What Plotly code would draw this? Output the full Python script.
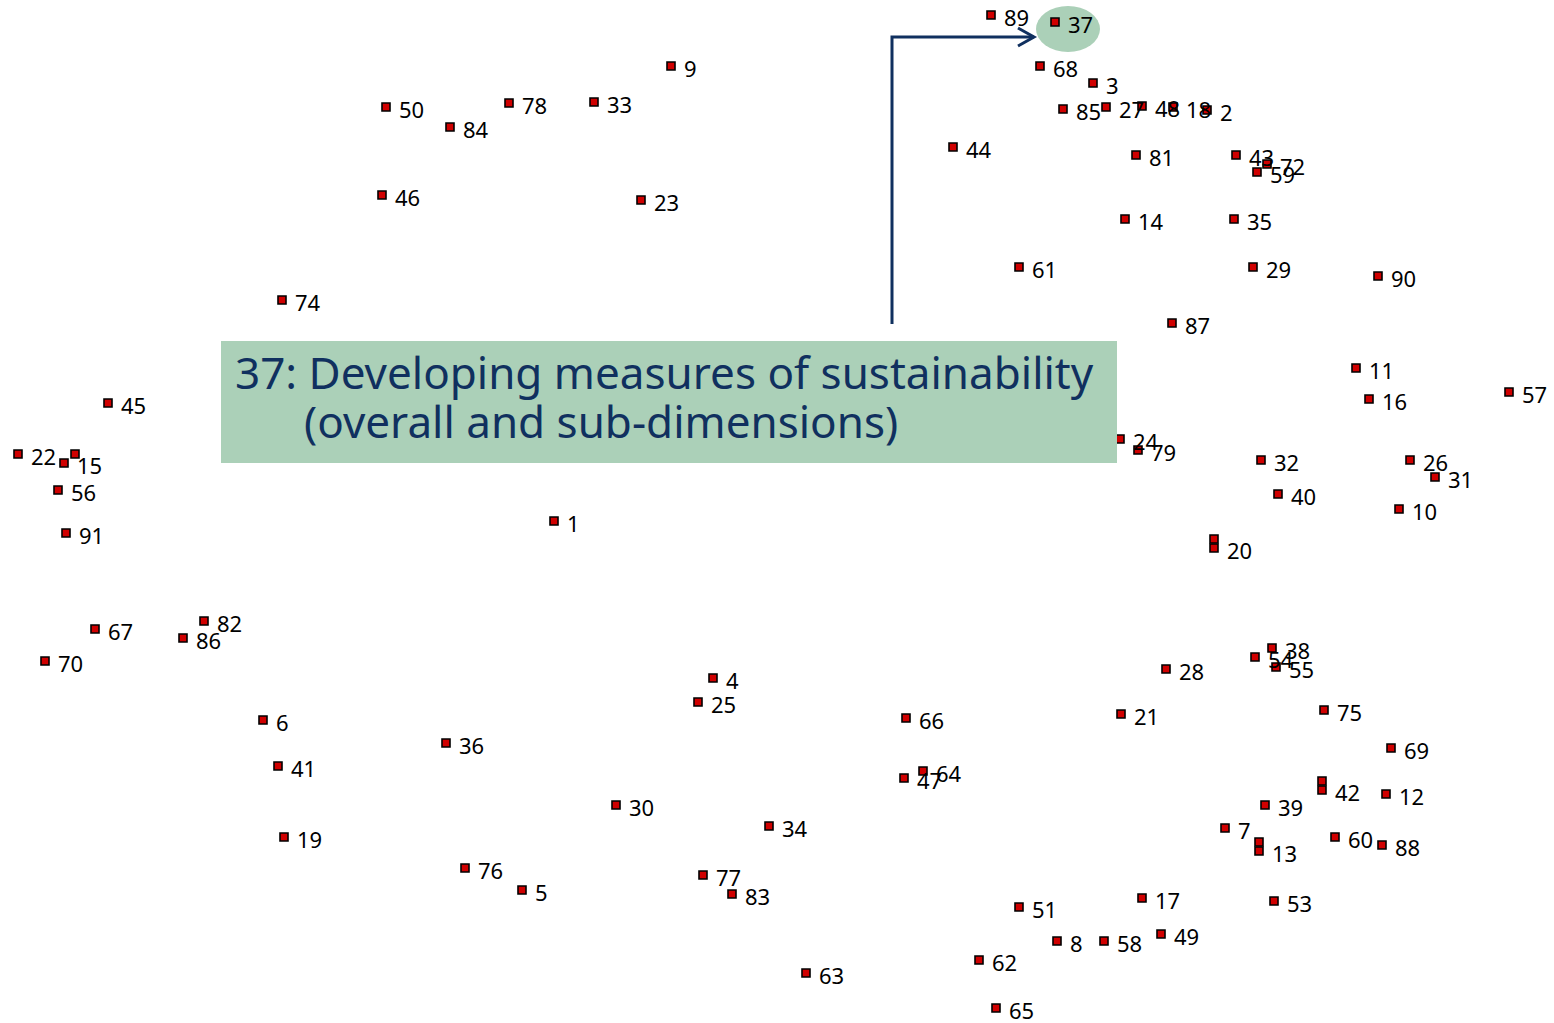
import plotly.graph_objects as go

# concept-map point positions (pixel units)
labels = [
    "89", "37", "68", "3", "85", "27", "48", "18", "2", "44",
    "81", "43", "72", "59", "14", "35", "61", "29", "90", "87",
    "11", "16", "57", "24", "79", "32", "26", "31", "40", "10",
    "20", "", "1", "45", "22", "15", "", "56", "91", "74",
    "46", "50", "84", "78", "33", "9", "23", "67", "70", "82",
    "86", "6", "41", "19", "36", "4", "25", "30", "76", "5",
    "34", "77", "83", "63", "66", "47", "64", "51", "62", "65",
    "8", "58", "49", "17", "53", "21", "28", "54", "38", "55",
    "75", "69", "42", "", "12", "39", "7", "13", "", "60",
    "88", "52",
]
xs = [
    991, 1055, 1040, 1093, 1063, 1106, 1142, 1173, 1207, 953,
    1136, 1236, 1267, 1257, 1125, 1234, 1019, 1253, 1378, 1172,
    1356, 1369, 1509, 1120, 1138, 1261, 1410, 1435, 1278, 1399,
    1214, 1214, 554, 108, 18, 64, 75, 58, 66, 282,
    382, 386, 450, 509, 594, 671, 641, 95, 45, 204,
    183, 263, 278, 284, 446, 713, 698, 616, 465, 522,
    769, 703, 732, 806, 906, 904, 923, 1019, 979, 996,
    1057, 1104, 1161, 1142, 1274, 1121, 1166, 1255, 1272, 1276,
    1324, 1391, 1322, 1322, 1386, 1265, 1225, 1259, 1259, 1335,
    1382, 692,
]
ys = [
    15, 22, 66, 83, 109, 107, 106, 107, 110, 147,
    155, 155, 164, 172, 219, 219, 267, 267, 276, 323,
    368, 399, 392, 439, 450, 460, 460, 477, 494, 509,
    548, 539, 521, 403, 454, 463, 454, 490, 533, 300,
    195, 107, 127, 103, 102, 66, 200, 629, 661, 621,
    638, 720, 766, 837, 743, 678, 702, 805, 868, 890,
    826, 875, 894, 973, 718, 778, 771, 907, 960, 1008,
    941, 941, 934, 898, 901, 714, 669, 657, 648, 667,
    710, 748, 790, 781, 794, 805, 828, 851, 842, 837,
    845, 452,
]

highlight = "37"
title_lines = ["37: Developing measures of sustainability", "(overall and sub-dimensions)"]

W, H = 1554, 1023
green = "#abd0b8"
navy = "#10305f"

fig = go.Figure()

# markers
fig.add_trace(go.Scatter(
    x=xs, y=ys, mode="markers",
    marker=dict(symbol="square", size=8, color="#d00000",
                line=dict(color="black", width=1.6)),
    hoverinfo="skip", showlegend=False,
))

# point labels, just right of and slightly below each marker
fig.add_trace(go.Scatter(
    x=[x + 13 for x in xs], y=[y + 5 for y in ys], mode="text",
    text=labels, textposition="middle right",
    textfont=dict(family="Noto Sans", size=22, color="black"),
    hoverinfo="skip", showlegend=False,
))

# highlight ellipse round the selected point
i = labels.index(highlight)
hx, hy = xs[i], ys[i]
fig.add_shape(type="circle", layer="below", x0=hx - 19, x1=hx + 45, y0=hy - 16, y1=hy + 30,
              fillcolor=green, line=dict(width=0))

# arrow from the text box up to the highlight
ax = 892
fig.add_shape(type="path", path=f"M {ax},324 L {ax},37 L {hx - 21},37",
              line=dict(color=navy, width=3))
fig.add_shape(type="path", path=f"M {hx - 37},28 L {hx - 21},37 L {hx - 37},46",
              line=dict(color=navy, width=3))

# description box
fig.add_shape(type="rect", layer="above", x0=221, x1=1117, y0=341, y1=463,
              fillcolor=green, line=dict(width=0))
fig.add_annotation(x=233, y=372, text=title_lines[0], showarrow=False,
                   xanchor="left", yanchor="middle",
                   font=dict(family="Noto Sans", size=44, color=navy))
fig.add_annotation(x=302, y=421, text=title_lines[1], showarrow=False,
                   xanchor="left", yanchor="middle",
                   font=dict(family="Noto Sans", size=44, color=navy))

fig.update_layout(
    width=W, height=H,
    margin=dict(l=0, r=0, t=0, b=0),
    plot_bgcolor="white", paper_bgcolor="white",
    xaxis=dict(range=[0, W], visible=False, fixedrange=True),
    yaxis=dict(range=[H, 0], visible=False, fixedrange=True),
)

fig.write_html("out.html", config={"displayModeBar": False},
               post_script="document.body.style.margin='0';")
